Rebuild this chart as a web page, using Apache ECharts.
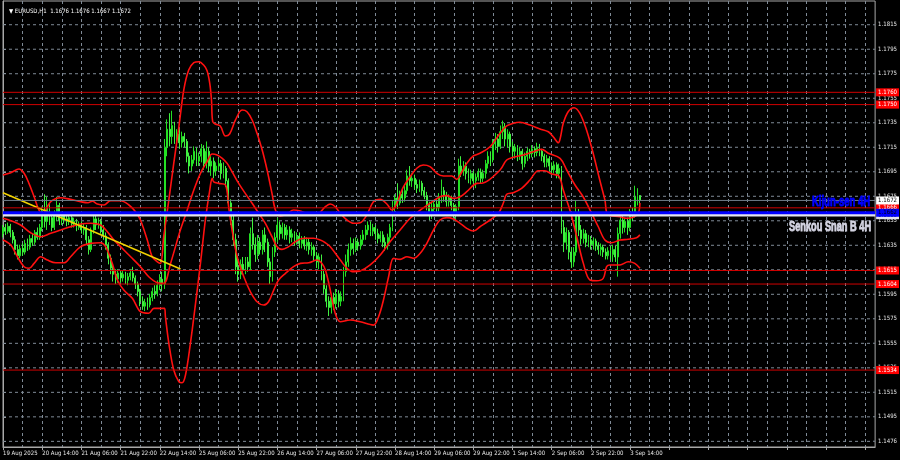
<!DOCTYPE html>
<html><head><meta charset="utf-8">
<script src="https://cdn.jsdelivr.net/npm/echarts@6/dist/echarts.min.js"></script>
<style>html,body{margin:0;padding:0;background:#000;}#c{width:900px;height:460px;}</style>
</head><body><div id="c"></div>
<script>
const chartTitle = '\u25BC EURUSD,H1  1.1676 1.1676 1.1667 1.1672';
const xTickLabels = ['19 Aug 2025','20 Aug 14:00','21 Aug 06:00','21 Aug 22:00','22 Aug 14:00','25 Aug 06:00','25 Aug 22:00','26 Aug 14:00','27 Aug 06:00','27 Aug 22:00','28 Aug 14:00','29 Aug 06:00','29 Aug 22:00','1 Sep 14:00','2 Sep 06:00','2 Sep 22:00','3 Sep 14:00'];
const yTickLabels = ['1.1476','1.1495','1.1515','1.1535','1.1555','1.1575','1.1595','1.1615','1.1635','1.1655','1.1675','1.1695','1.1715','1.1735','1.1755','1.1775','1.1795','1.1815'];
// [open, close, low, high]
const ohlc = [
[1.1645,1.1650,1.1642,1.1652],[1.1650,1.1647,1.1644,1.1653],[1.1647,1.1651,1.1645,1.1654],[1.1651,1.1646,1.1642,1.1653],[1.1646,1.1640,1.1637,1.1648],
[1.1640,1.1632,1.1628,1.1643],[1.1632,1.1627,1.1624,1.1636],[1.1627,1.1633,1.1625,1.1636],[1.1633,1.1630,1.1627,1.1637],[1.1630,1.1637,1.1628,1.1640],
[1.1637,1.1634,1.1631,1.1641],[1.1634,1.1641,1.1632,1.1644],[1.1641,1.1638,1.1635,1.1645],[1.1638,1.1646,1.1636,1.1648],[1.1646,1.1642,1.1640,1.1650],
[1.1642,1.1650,1.1640,1.1653],[1.1650,1.1662,1.1647,1.1667],[1.1662,1.1655,1.1650,1.1677],[1.1655,1.1668,1.1648,1.1675],[1.1668,1.1658,1.1652,1.1670],
[1.1658,1.1650,1.1647,1.1662],[1.1650,1.1660,1.1648,1.1664],[1.1660,1.1668,1.1655,1.1675],[1.1668,1.1656,1.1652,1.1670],[1.1656,1.1660,1.1652,1.1663],
[1.1660,1.1657,1.1653,1.1662],[1.1657,1.1655,1.1651,1.1660],[1.1655,1.1658,1.1652,1.1661],[1.1658,1.1653,1.1650,1.1660],[1.1653,1.1655,1.1650,1.1658],
[1.1655,1.1650,1.1647,1.1657],[1.1650,1.1652,1.1648,1.1655],[1.1652,1.1648,1.1645,1.1655],[1.1648,1.1650,1.1644,1.1653],[1.1650,1.1640,1.1636,1.1652],
[1.1640,1.1632,1.1628,1.1643],[1.1632,1.1648,1.1630,1.1650],[1.1648,1.1657,1.1645,1.1662],[1.1657,1.1652,1.1648,1.1660],[1.1652,1.1655,1.1649,1.1658],
[1.1655,1.1648,1.1645,1.1657],[1.1648,1.1643,1.1640,1.1652],[1.1643,1.1636,1.1632,1.1646],[1.1636,1.1625,1.1620,1.1638],[1.1625,1.1617,1.1612,1.1628],
[1.1617,1.1612,1.1606,1.1620],[1.1612,1.1608,1.1604,1.1616],[1.1608,1.1613,1.1605,1.1616],[1.1613,1.1609,1.1605,1.1615],[1.1609,1.1612,1.1606,1.1615],
[1.1612,1.1607,1.1604,1.1614],[1.1607,1.1610,1.1603,1.1613],[1.1610,1.1613,1.1607,1.1616],[1.1613,1.1609,1.1606,1.1618],[1.1609,1.1604,1.1600,1.1611],
[1.1604,1.1598,1.1594,1.1606],[1.1598,1.1590,1.1586,1.1600],[1.1590,1.1586,1.1583,1.1594],[1.1586,1.1589,1.1582,1.1592],[1.1589,1.1587,1.1583,1.1593],
[1.1587,1.1593,1.1585,1.1596],[1.1593,1.1598,1.1590,1.1601],[1.1598,1.1596,1.1592,1.1603],[1.1596,1.1603,1.1594,1.1607],[1.1603,1.1608,1.1599,1.1612],
[1.1608,1.1604,1.1598,1.1614],[1.1604,1.1715,1.1600,1.1722],[1.1715,1.1730,1.1708,1.1738],[1.1730,1.1724,1.1716,1.1743],[1.1724,1.1733,1.1718,1.1745],
[1.1733,1.1722,1.1718,1.1736],[1.1722,1.1726,1.1717,1.1730],[1.1726,1.1719,1.1714,1.1730],[1.1719,1.1724,1.1715,1.1728],[1.1724,1.1720,1.1715,1.1727],
[1.1720,1.1708,1.1703,1.1722],[1.1708,1.1700,1.1694,1.1711],[1.1700,1.1705,1.1696,1.1709],[1.1705,1.1712,1.1702,1.1716],[1.1712,1.1704,1.1700,1.1715],
[1.1704,1.1708,1.1700,1.1711],[1.1708,1.1714,1.1703,1.1718],[1.1714,1.1702,1.1697,1.1717],[1.1702,1.1712,1.1698,1.1720],[1.1712,1.1700,1.1695,1.1715],
[1.1700,1.1704,1.1692,1.1708],[1.1704,1.1696,1.1690,1.1707],[1.1696,1.1700,1.1692,1.1703],[1.1700,1.1702,1.1696,1.1706],[1.1702,1.1694,1.1689,1.1705],
[1.1694,1.1698,1.1690,1.1703],[1.1698,1.1688,1.1683,1.1700],[1.1688,1.1670,1.1665,1.1690],[1.1670,1.1656,1.1652,1.1673],[1.1656,1.1640,1.1635,1.1660],
[1.1640,1.1618,1.1612,1.1645],[1.1618,1.1612,1.1606,1.1625],[1.1612,1.1620,1.1608,1.1624],[1.1620,1.1616,1.1612,1.1626],[1.1616,1.1622,1.1612,1.1626],
[1.1622,1.1618,1.1614,1.1626],[1.1618,1.1645,1.1615,1.1650],[1.1645,1.1636,1.1632,1.1658],[1.1636,1.1628,1.1622,1.1642],[1.1628,1.1638,1.1624,1.1644],
[1.1638,1.1632,1.1628,1.1642],[1.1632,1.1644,1.1628,1.1648],[1.1644,1.1638,1.1630,1.1650],[1.1638,1.1622,1.1618,1.1641],[1.1622,1.1610,1.1604,1.1625],
[1.1610,1.1630,1.1606,1.1634],[1.1630,1.1642,1.1626,1.1646],[1.1642,1.1652,1.1638,1.1658],[1.1652,1.1645,1.1640,1.1655],[1.1645,1.1650,1.1641,1.1654],
[1.1650,1.1644,1.1640,1.1653],[1.1644,1.1648,1.1640,1.1652],[1.1648,1.1642,1.1637,1.1651],[1.1642,1.1645,1.1638,1.1649],[1.1645,1.1640,1.1635,1.1647],
[1.1640,1.1643,1.1636,1.1646],[1.1643,1.1637,1.1633,1.1646],[1.1637,1.1640,1.1633,1.1643],[1.1640,1.1635,1.1632,1.1643],[1.1635,1.1638,1.1631,1.1642],
[1.1638,1.1632,1.1628,1.1641],[1.1632,1.1634,1.1627,1.1638],[1.1634,1.1627,1.1623,1.1636],[1.1627,1.1622,1.1617,1.1630],[1.1622,1.1626,1.1616,1.1629],
[1.1626,1.1612,1.1607,1.1628],[1.1612,1.1600,1.1596,1.1615],[1.1600,1.1590,1.1585,1.1603],[1.1590,1.1585,1.1578,1.1594],[1.1585,1.1593,1.1580,1.1596],
[1.1593,1.1588,1.1583,1.1597],[1.1588,1.1596,1.1584,1.1600],[1.1596,1.1590,1.1585,1.1599],[1.1590,1.1594,1.1586,1.1598],[1.1594,1.1614,1.1590,1.1618],
[1.1614,1.1622,1.1610,1.1628],[1.1622,1.1632,1.1618,1.1637],[1.1632,1.1637,1.1627,1.1642],[1.1637,1.1633,1.1628,1.1641],[1.1633,1.1638,1.1630,1.1642],
[1.1638,1.1635,1.1631,1.1641],[1.1635,1.1640,1.1632,1.1644],[1.1640,1.1644,1.1636,1.1648],[1.1644,1.1648,1.1640,1.1652],[1.1648,1.1652,1.1644,1.1655],
[1.1652,1.1647,1.1643,1.1655],[1.1647,1.1650,1.1643,1.1653],[1.1650,1.1645,1.1640,1.1652],[1.1645,1.1641,1.1637,1.1649],[1.1641,1.1644,1.1638,1.1647],
[1.1644,1.1638,1.1634,1.1647],[1.1638,1.1635,1.1631,1.1642],[1.1635,1.1642,1.1632,1.1645],[1.1642,1.1650,1.1638,1.1653],[1.1650,1.1668,1.1647,1.1672],
[1.1668,1.1674,1.1662,1.1677],[1.1674,1.1670,1.1665,1.1686],[1.1670,1.1677,1.1668,1.1680],[1.1677,1.1674,1.1670,1.1681],[1.1674,1.1680,1.1671,1.1684],
[1.1680,1.1692,1.1677,1.1697],[1.1692,1.1688,1.1684,1.1700],[1.1688,1.1690,1.1683,1.1694],[1.1690,1.1685,1.1681,1.1693],[1.1685,1.1682,1.1678,1.1689],
[1.1682,1.1686,1.1679,1.1689],[1.1686,1.1680,1.1676,1.1688],[1.1680,1.1676,1.1673,1.1683],[1.1676,1.1668,1.1664,1.1679],[1.1668,1.1660,1.1656,1.1671],
[1.1660,1.1665,1.1657,1.1670],[1.1665,1.1669,1.1661,1.1672],[1.1669,1.1666,1.1662,1.1673],[1.1666,1.1674,1.1663,1.1678],[1.1674,1.1680,1.1670,1.1689],
[1.1680,1.1676,1.1671,1.1683],[1.1676,1.1671,1.1667,1.1679],[1.1671,1.1674,1.1667,1.1677],[1.1674,1.1668,1.1664,1.1676],[1.1668,1.1662,1.1657,1.1670],
[1.1662,1.1667,1.1655,1.1669],[1.1667,1.1700,1.1664,1.1706],[1.1700,1.1696,1.1691,1.1708],[1.1696,1.1700,1.1692,1.1704],[1.1700,1.1694,1.1689,1.1703],
[1.1694,1.1690,1.1686,1.1698],[1.1690,1.1694,1.1685,1.1697],[1.1694,1.1688,1.1683,1.1696],[1.1688,1.1691,1.1682,1.1694],[1.1691,1.1695,1.1688,1.1698],
[1.1695,1.1690,1.1686,1.1698],[1.1690,1.1694,1.1687,1.1697],[1.1694,1.1702,1.1690,1.1705],[1.1702,1.1708,1.1698,1.1712],[1.1708,1.1705,1.1700,1.1712],
[1.1705,1.1718,1.1703,1.1722],[1.1718,1.1722,1.1713,1.1727],[1.1722,1.1716,1.1711,1.1726],[1.1716,1.1728,1.1714,1.1733],[1.1728,1.1732,1.1722,1.1737],
[1.1732,1.1722,1.1716,1.1735],[1.1722,1.1726,1.1715,1.1730],[1.1726,1.1716,1.1711,1.1728],[1.1716,1.1712,1.1707,1.1720],[1.1712,1.1715,1.1706,1.1718],
[1.1715,1.1709,1.1704,1.1717],[1.1709,1.1712,1.1705,1.1715],[1.1712,1.1702,1.1697,1.1714],[1.1702,1.1708,1.1699,1.1711],[1.1708,1.1712,1.1704,1.1715],
[1.1712,1.1710,1.1706,1.1714],[1.1710,1.1714,1.1707,1.1717],[1.1714,1.1711,1.1707,1.1716],[1.1711,1.1715,1.1708,1.1719],[1.1715,1.1712,1.1708,1.1718],
[1.1712,1.1708,1.1704,1.1714],[1.1708,1.1703,1.1699,1.1710],[1.1703,1.1706,1.1699,1.1709],[1.1706,1.1700,1.1696,1.1708],[1.1700,1.1697,1.1693,1.1703],
[1.1697,1.1701,1.1694,1.1704],[1.1701,1.1694,1.1690,1.1703],[1.1694,1.1698,1.1690,1.1702],[1.1698,1.1650,1.1645,1.1700],[1.1650,1.1638,1.1630,1.1656],
[1.1638,1.1646,1.1632,1.1650],[1.1646,1.1630,1.1624,1.1648],[1.1630,1.1622,1.1617,1.1634],[1.1622,1.1630,1.1618,1.1634],[1.1630,1.1660,1.1627,1.1672],
[1.1660,1.1648,1.1643,1.1665],[1.1648,1.1641,1.1636,1.1652],[1.1641,1.1645,1.1637,1.1649],[1.1645,1.1638,1.1634,1.1648],[1.1638,1.1640,1.1634,1.1644],
[1.1640,1.1636,1.1632,1.1643],[1.1636,1.1639,1.1632,1.1642],[1.1639,1.1635,1.1631,1.1641],[1.1635,1.1632,1.1628,1.1638],[1.1632,1.1634,1.1627,1.1637],
[1.1634,1.1630,1.1626,1.1636],[1.1630,1.1627,1.1624,1.1633],[1.1627,1.1631,1.1624,1.1634],[1.1631,1.1628,1.1624,1.1635],[1.1628,1.1632,1.1622,1.1636],
[1.1632,1.1626,1.1622,1.1635],[1.1626,1.1645,1.1610,1.1650],[1.1645,1.1656,1.1641,1.1662],[1.1656,1.1650,1.1645,1.1660],[1.1650,1.1655,1.1646,1.1658],
[1.1655,1.1650,1.1644,1.1658],[1.1650,1.1662,1.1647,1.1665],[1.1662,1.1660,1.1655,1.1666],[1.1660,1.1675,1.1658,1.1684],[1.1675,1.1676,1.1668,1.1682],
[1.1676,1.1672,1.1667,1.1676]
];
// red indicator curves: [bar index, price]
const upperBand = [[0,1.16927],[3.2,1.16946],[6.5,1.16976],[8.6,1.16941],[10.6,1.16859],[12.7,1.16750],[14.7,1.16642],[16.1,1.16615],[19.5,1.16710],[23.5,1.16742],[27.6,1.16729],[31.7,1.16710],[34.7,1.16702],[36.5,1.16715],[38.5,1.16691],[41.2,1.16683],[43.9,1.16718],[48.0,1.16718],[51.4,1.16683],[54.1,1.16628],[56.1,1.16561],[58.9,1.16398],[60.9,1.16262],[63.0,1.16221],[64.3,1.16208],[65.6,1.16425],[67.7,1.16724],[69.7,1.17022],[71.8,1.17320],[73.8,1.17619],[75.8,1.17781],[77.9,1.17841],[79.9,1.17849],[81.9,1.17822],[83.3,1.17776],[84.4,1.17673],[85.1,1.17537],[85.6,1.17361],[86.7,1.17342],[88.7,1.17326],[90.8,1.17244],[92.5,1.17261],[94.9,1.17375],[97.6,1.17456],[99.6,1.17442],[101.7,1.17375],[103.7,1.17266],[105.8,1.17130],[107.8,1.16968],[109.8,1.16778],[111.2,1.16642],[113.2,1.16593],[115.9,1.16610],[118.6,1.16642],[121.4,1.16634],[124.1,1.16615],[128.2,1.16610],[131.6,1.16669],[133.6,1.16691],[135.6,1.16669],[137.7,1.16615],[140.4,1.16561],[143.1,1.16534],[145.8,1.16539],[148.5,1.16602],[151.2,1.16710],[154.0,1.16729],[156.7,1.16691],[158.7,1.16642],[163.5,1.16832],[166.2,1.16913],[168.9,1.16982],[171.6,1.17008],[174.3,1.16995],[177.1,1.16941],[179.8,1.16919],[183.2,1.16919],[185.2,1.16892],[186.6,1.16927],[189.3,1.17022],[192.0,1.17082],[194.7,1.17104],[198.8,1.17157],[202.9,1.17266],[205.6,1.17326],[208.3,1.17348],[211.0,1.17356],[215.1,1.17334],[219.2,1.17301],[222.6,1.17279],[224.6,1.17239],[226.7,1.17190],[227.6,1.17239],[228.7,1.17348],[230.7,1.17442],[233.1,1.17475],[235.5,1.17429],[238.2,1.17293],[240.9,1.17104],[243.6,1.16886],[245.7,1.16724],[247.0,1.16602],[251.8,1.16588],[254.5,1.16575],[257.2,1.16583],[259.3,1.16615],[260.0,1.16700]];
const middleBand = [[0,1.16575],[3.2,1.16555],[7.2,1.16520],[11.3,1.16457],[15.4,1.16425],[19.5,1.16453],[23.5,1.16479],[27.6,1.16506],[31.7,1.16528],[35.8,1.16534],[39.8,1.16520],[42.6,1.16466],[45.3,1.16398],[48.0,1.16344],[52.1,1.16262],[56.1,1.16181],[59.5,1.16099],[63.0,1.16051],[65.6,1.16046],[68.4,1.16208],[72.4,1.16479],[75.2,1.16642],[77.9,1.16805],[80.6,1.16941],[83.3,1.17035],[85.4,1.17098],[87.4,1.17090],[89.5,1.17063],[91.5,1.17022],[93.5,1.16954],[96.2,1.16859],[98.9,1.16778],[101.7,1.16697],[104.4,1.16615],[107.1,1.16534],[109.8,1.16425],[111.9,1.16344],[113.9,1.16322],[116.6,1.16344],[119.3,1.16384],[122.7,1.16412],[126.8,1.16412],[129.5,1.16398],[131.6,1.16376],[133.6,1.16344],[137.7,1.16235],[140.4,1.16168],[143.1,1.16140],[145.8,1.16146],[149.9,1.16195],[154.0,1.16276],[158.0,1.16384],[162.1,1.16479],[166.2,1.16575],[170.3,1.16642],[174.3,1.16697],[178.4,1.16750],[181.2,1.16759],[183.9,1.16737],[186.6,1.16750],[189.3,1.16791],[193.4,1.16859],[195.9,1.16862],[202.9,1.16968],[205.6,1.17049],[208.3,1.17071],[212.4,1.17090],[216.5,1.17117],[219.9,1.17136],[222.6,1.17104],[227.4,1.17063],[230.1,1.16968],[233.5,1.16846],[236.8,1.16750],[240.3,1.16615],[243.0,1.16506],[245.7,1.16398],[248.4,1.16376],[251.8,1.16398],[255.2,1.16404],[258.6,1.16417],[260.0,1.16440]];
const lowerBand = [[0,1.16398],[3.2,1.16357],[5.9,1.16262],[8.6,1.16181],[10.6,1.16168],[12.7,1.16208],[15.4,1.16262],[18.1,1.16235],[21.5,1.16213],[24.9,1.16213],[27.6,1.16262],[31.7,1.16344],[35.8,1.16371],[39.8,1.16376],[41.9,1.16344],[44.6,1.16208],[46.7,1.16073],[49.3,1.15991],[52.8,1.15924],[56.1,1.15815],[59.5,1.15802],[61.6,1.15842],[65.9,1.15842],[66.3,1.15774],[67.7,1.15557],[69.7,1.15340],[71.8,1.15245],[73.1,1.15237],[74.5,1.15300],[76.5,1.15557],[78.6,1.15883],[80.6,1.16208],[82.6,1.16561],[84.4,1.16805],[85.4,1.16900],[86.0,1.16872],[88.1,1.16859],[90.8,1.16846],[92.1,1.16669],[93.5,1.16479],[95.6,1.16262],[98.3,1.16099],[101.0,1.15977],[103.7,1.15896],[106.4,1.15869],[108.4,1.15896],[110.5,1.15991],[112.5,1.16073],[115.3,1.16127],[118.6,1.16181],[121.4,1.16208],[124.8,1.16213],[128.2,1.16235],[130.2,1.16208],[131.6,1.16154],[133.6,1.15991],[135.6,1.15802],[137.7,1.15733],[141.7,1.15747],[145.8,1.15733],[151.2,1.15706],[153.3,1.15774],[155.3,1.15910],[157.4,1.16099],[159.4,1.16249],[162.1,1.16241],[164.9,1.16262],[167.6,1.16249],[170.3,1.16290],[173.0,1.16371],[175.7,1.16479],[178.4,1.16561],[181.2,1.16580],[183.9,1.16569],[186.6,1.16534],[189.3,1.16493],[192.0,1.16471],[194.7,1.16506],[198.8,1.16561],[202.2,1.16615],[204.2,1.16697],[205.6,1.16770],[208.3,1.16783],[211.7,1.16819],[215.1,1.16886],[218.5,1.16962],[221.2,1.16962],[224.0,1.16935],[226.9,1.16919],[228.7,1.16805],[231.4,1.16642],[234.2,1.16425],[236.9,1.16208],[239.6,1.16073],[242.3,1.16067],[245.0,1.16086],[246.4,1.16181],[247.7,1.16195],[251.8,1.16195],[255.2,1.16221],[257.9,1.16208],[260.0,1.16168]];
const trendLine = [[0,1.16783],[72.45,1.16162]];
const redLevels = [1.1760, 1.1750, 1.1666, 1.1615, 1.1604, 1.1534];
const lastPrice = 1.1672;
const kijun4H = 1.1662;
const senkouB4H = 1.1660;
const kijunText = 'Kijun-sen 4H';
const senkouText = 'Senkou Snan B 4H';

const TOTAL_SLOTS = 357;
const LAST = TOTAL_SLOTS - 1;
const FONT = "'DejaVu Sans Condensed','DejaVu Sans',sans-serif";
const SMALL = 6;
const slots = Array.from({length: TOTAL_SLOTS}, (_, i) => String(i));
const yLo = parseFloat(yTickLabels[0]), yHi = parseFloat(yTickLabels[yTickLabels.length - 1]);
const yTickValues = yTickLabels.map((_, k) => yLo + k * (yHi - yLo) / (yTickLabels.length - 1));
function yLabelFor(v) {
  let best = 0, d = Infinity;
  yTickValues.forEach((t, k) => { const dd = Math.abs(t - v); if (dd < d) { d = dd; best = k; } });
  return yTickLabels[best];
}
const labelShown = (i) => i % 16 === 0 && i / 16 < xTickLabels.length;

// a full-width horizontal line drawn through the axes, with an optional price box at its right end
function hLine(value, color, width, dash, z, box) {
  const s = {type: 'line', xAxisIndex: 1, data: [[0, value], [LAST, value]], showSymbol: false, silent: true, z: z,
    lineStyle: {color: color, width: width, type: dash || 'solid'}, emphasis: {disabled: true}};
  if (box) {
    s.endLabel = {show: true, formatter: value.toFixed(4), distance: 1, align: 'left', verticalAlign: 'middle',
      backgroundColor: box.bg, color: box.fg, fontSize: SMALL, fontFamily: FONT, padding: [1, 2, 0, 2], lineHeight: 7};
  }
  return s;
}

const series = [];
yTickValues.forEach(v => series.push(hLine(v, '#7f8a96', 1, [3, 3], 1)));
series.push({type: 'candlestick', name: 'EURUSD', xAxisIndex: 0, data: ohlc, z: 2, barWidth: 1.4,
  itemStyle: {color: '#0c9a0c', color0: '#c8ffc8', borderColor: '#24e024', borderColor0: '#40f040', borderWidth: 1}});
[upperBand, middleBand, lowerBand].forEach(b => series.push({type: 'line', xAxisIndex: 1, data: b, smooth: 0.35,
  showSymbol: false, z: 3, silent: true, lineStyle: {color: '#ff1010', width: 1.6}}));
series.push({type: 'line', xAxisIndex: 1, data: trendLine, showSymbol: false, z: 4, silent: true, lineStyle: {color: '#f2d200', width: 1.5}});
redLevels.forEach(v => series.push(hLine(v, '#d00000', 1, 'solid', 5, {bg: '#ff0000', fg: '#ffffff'})));
series.push(hLine(senkouB4H, '#e4e4ee', 2.4, 'solid', 6, {bg: '#e4e4ee', fg: '#000000'}));
series.push(hLine(kijun4H, '#0000ff', 2.8, 'solid', 7, {bg: '#0000ff', fg: '#000000'}));
series.push(hLine(lastPrice, '#6e7c88', 1, 'solid', 8, {bg: '#ffffff', fg: '#000000'}));

const chart = echarts.init(document.getElementById('c'), null, {renderer: 'canvas'});
chart.setOption({
  backgroundColor: '#000000',
  animation: false,
  title: {text: chartTitle, left: 4, top: 3, textStyle: {color: '#ffffff', fontSize: SMALL, fontWeight: 'normal', fontFamily: FONT}},
  grid: {left: 2, right: 24.6, top: 1, bottom: 13, show: true, borderColor: '#a8a8a8', borderWidth: 1},
  xAxis: [{
    type: 'category', data: slots, boundaryGap: false,
    axisLine: {show: true, lineStyle: {color: '#a8a8a8'}},
    axisTick: {show: true, length: 3, interval: 15, lineStyle: {color: '#a8a8a8'}},
    axisLabel: {interval: (i) => labelShown(i), showMinLabel: true, formatter: (v) => xTickLabels[Math.round(Number(v) / 16)] || '',
      color: '#e8e8e8', fontSize: SMALL, fontFamily: FONT, align: 'left', margin: 3},
    splitLine: {show: true, interval: 7, lineStyle: {color: '#7f8a96', type: [3, 3], width: 1}}
  }, {
    type: 'value', min: 0, max: LAST, show: false
  }],
  yAxis: {
    type: 'value', position: 'right', min: 1.14714, max: 1.18343,
    axisLine: {show: true, lineStyle: {color: '#a8a8a8'}},
    axisTick: {show: true, length: 3, customValues: yTickValues, lineStyle: {color: '#a8a8a8'}},
    axisLabel: {customValues: yTickValues, formatter: (v) => yLabelFor(v), color: '#e8e8e8', fontSize: SMALL, fontFamily: FONT, margin: 3},
    splitLine: {show: false}
  },
  series: series
});
// Text annotations for the two 4H lines, positioned through the chart's own scales
const xRight = chart.convertToPixel({xAxisIndex: 1}, LAST);
const yKijun = chart.convertToPixel({yAxisIndex: 0}, kijun4H);
const ySenkou = chart.convertToPixel({yAxisIndex: 0}, senkouB4H);
chart.setOption({
  graphic: [
    {type: 'text', x: xRight - 5, y: yKijun - 4, scaleX: 0.68, z: 100,
     style: {text: kijunText, fill: '#0000ff', stroke: '#0000ff', lineWidth: 0.9, font: "bold 14px 'Liberation Sans', Arial, sans-serif", textAlign: 'right', textVerticalAlign: 'bottom'}},
    {type: 'text', x: xRight - 4, y: ySenkou + 5, scaleX: 0.66, z: 100,
     style: {text: senkouText, fill: '#d4d4e2', stroke: '#d4d4e2', lineWidth: 0.9, font: "bold 14px 'Liberation Sans', Arial, sans-serif", textAlign: 'right', textVerticalAlign: 'top'}}
  ]
});
</script>
</body></html>
